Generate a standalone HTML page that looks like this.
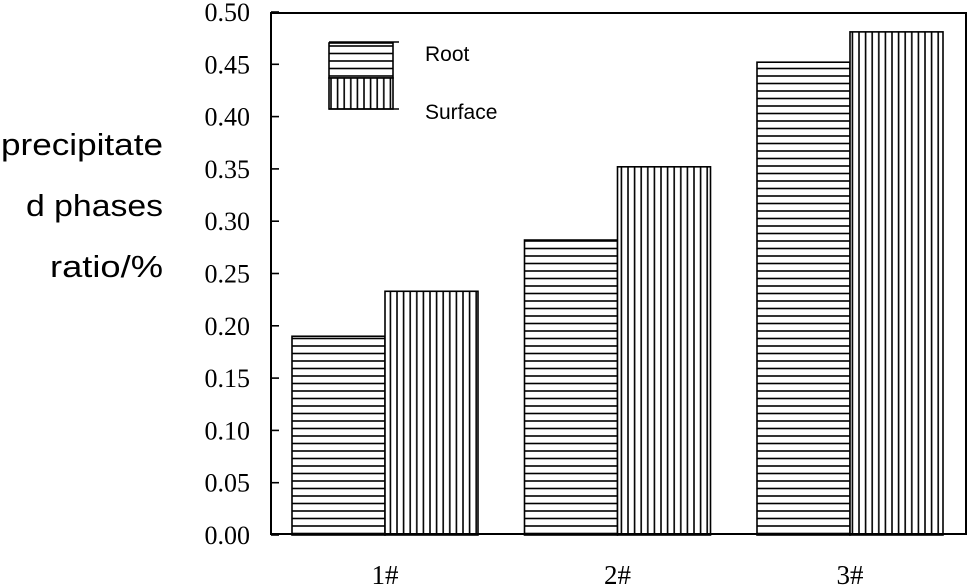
<!DOCTYPE html>
<html><head><meta charset="utf-8"><style>body{margin:0;background:#fff}svg{display:block}</style></head>
<body>
<svg id="chart" width="968" height="585" xmlns="http://www.w3.org/2000/svg">
<defs>
<pattern id="hpat" patternUnits="userSpaceOnUse" width="8" height="7.5"><rect width="8" height="7.5" fill="#fff"/><line x1="0" y1="1" x2="8" y2="1" stroke="#000" stroke-width="1.6"/></pattern>
<pattern id="vpat" patternUnits="userSpaceOnUse" width="6.6" height="8"><rect width="6.6" height="8" fill="#fff"/><line x1="1" y1="0" x2="1" y2="8" stroke="#000" stroke-width="1.6"/></pattern>
</defs>
<g id="bars"></g>
<rect x="271" y="13" width="695" height="521" fill="none" stroke="#000" stroke-width="2"/>
<g id="yaxis"></g>
<g id="xaxis"></g>
<g font-family="Liberation Sans, sans-serif" font-size="31" text-anchor="end" fill="#000">
<text x="163" y="155" textLength="162" lengthAdjust="spacingAndGlyphs">precipitate</text>
<text x="163" y="216" textLength="137" lengthAdjust="spacingAndGlyphs">d phases</text>
<text x="163" y="277" textLength="113" lengthAdjust="spacingAndGlyphs">ratio/%</text>
</g>
<g font-family="Liberation Sans, sans-serif" font-size="21">
<g>
<rect x="329" y="43" width="64" height="35" fill="url(#hpat)" stroke="#000" stroke-width="1.6"/>
<line x1="329" y1="42" x2="399" y2="42" stroke="#000" stroke-width="1.6"/>
<text x="425" y="61">Root</text></g>
<g>
<rect x="329" y="78" width="64" height="31" fill="url(#vpat)" stroke="#000" stroke-width="1.6"/>
<line x1="329" y1="109" x2="399" y2="109" stroke="#000" stroke-width="1.6"/>
<text x="425" y="119">Surface</text></g>
</g>
</svg>
<script>
const categories=["1#","2#","3#"];
const rootValues=[0.19,0.282,0.452];
const surfaceValues=[0.233,0.352,0.481];
const yTicks=[0,0.05,0.1,0.15,0.2,0.25,0.3,0.35,0.4,0.45,0.5];
const NS="http://www.w3.org/2000/svg";
const y=v=>535-v*1046;
const groupCenter=i=>385+i*232.5;
const bw=93;
const bars=document.getElementById('bars');
function mk(t,a,p){const e=document.createElementNS(NS,t);for(const k in a)e.setAttribute(k,a[k]);p.appendChild(e);return e;}
categories.forEach((c,i)=>{
 const cx=groupCenter(i);
 const r=mk('rect',{x:cx-bw,y:y(rootValues[i]),width:bw,height:y(0)-y(rootValues[i]),fill:'url(#hpat)',stroke:'#000','stroke-width':1.6},bars);
 
 
 const s=mk('rect',{x:cx,y:y(surfaceValues[i]),width:bw,height:y(0)-y(surfaceValues[i]),fill:'url(#vpat)',stroke:'#000','stroke-width':1.6},bars);
 
 
 const t=mk('text',{x:cx,y:584,'text-anchor':'middle','font-family':'Liberation Serif, serif','font-size':27},document.getElementById('xaxis'));
 t.textContent=c;
 
 
});
const ya=document.getElementById('yaxis');
yTicks.forEach(v=>{
 const l=mk('line',{x1:271,x2:279,y1:y(v),y2:y(v),stroke:'#000','stroke-width':1.6},ya);
 
 
 const t=mk('text',{x:250,y:y(v)+9,'text-anchor':'end','font-family':'Liberation Serif, serif','font-size':26},ya);
 t.textContent=v.toFixed(2);
 
 
});
</script>
</body></html>
